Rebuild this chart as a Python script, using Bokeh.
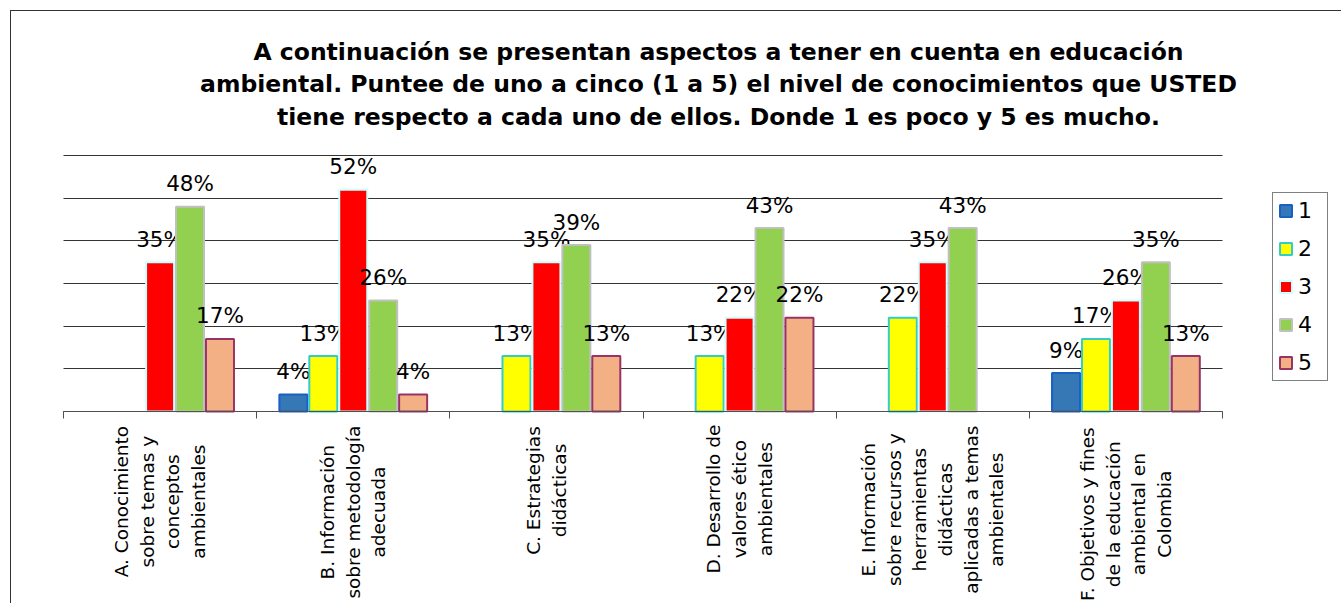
import math
from bokeh.plotting import figure
from bokeh.models import (ColumnDataSource, Legend, LegendItem, FixedTicker,
                          Range1d, LinearAxis, Grid)
from bokeh.embed import file_html
from bokeh.resources import INLINE
from bokeh.core.properties import value

# ---------------- data ----------------
title_text = ("A continuación se presentan aspectos a tener en cuenta en educación\n"
              "ambiental. Puntee de uno a cinco (1 a 5) el nivel de conocimientos que USTED\n"
              "tiene respecto a cada uno de ellos. Donde 1 es poco y 5 es mucho.")
categories = [
    "A. Conocimiento\nsobre temas y\nconceptos\nambientales",
    "B. Información\nsobre metodología\nadecuada",
    "C. Estrategias\ndidácticas",
    "D. Desarrollo de\nvalores ético\nambientales",
    "E. Información\nsobre recursos y\nherramientas\ndidácticas\naplicadas a temas\nambientales",
    "F. Objetivos y fines\nde la educación\nambiental en\nColombia",
]
series_names = ["1", "2", "3", "4", "5"]
s1 = [0, 4, 0, 0, 0, 9]
s2 = [0, 13, 13, 13, 22, 17]
s3 = [35, 52, 35, 22, 35, 26]
s4 = [48, 26, 39, 43, 43, 35]
s5 = [17, 4, 13, 22, 0, 13]
y_ticks = [0, 10, 20, 30, 40, 50, 60]

series_values = [s1, s2, s3, s4, s5]

# ---------------- styles / layout (page pixels) ----------------
fills = ["#3677b5", "#ffff00", "#ff0000", "#92d050", "#f2b084"]
lines = ["#1a5fc8", "#33cccc", "#ccffff", "#c0c0c0", "#993366"]
FONT = "DejaVu Sans"

ORG = 11                 # page px of canvas top-left (10 margin + 1 border)
FW, FH = 1330, 592       # frame size
PX_L, PX_R = 63, 1222    # page px of category axis ends
PX_0, PX_TOP = 411, 155  # page px of y=0 and y=max
ncat = len(categories)
ymax = y_ticks[-1]
ppu_x = (PX_R - PX_L) / ncat
ppu_y = (PX_0 - PX_TOP) / ymax

x_start = -(PX_L - ORG) / ppu_x
x_end = ncat + (ORG + FW - PX_R) / ppu_x
y_end = ymax + (PX_TOP - ORG) / ppu_y
y_start = -(ORG + FH - PX_0) / ppu_y

p = figure(frame_width=FW, frame_height=FH,
           x_range=Range1d(x_start, x_end), y_range=Range1d(y_start, y_end),
           x_axis_location=None, y_axis_location=None,
           output_backend="svg", toolbar_location=None,
           min_border_left=0, min_border_right=0, min_border_top=0,
           min_border_bottom=0)
p.styles = {"border-top": "1px solid #333333", "border-left": "1px solid #333333",
            "margin-left": "10px", "margin-top": "10px"}
p.outline_line_color = None
p.background_fill_color = "white"
p.border_fill_color = "white"
# drop any default grids
p.center = [r for r in p.center if not isinstance(r, Grid)]

# horizontal gridlines, limited to the category span
if "cross_bounds" in Grid.properties():
    grid = Grid(dimension=1, ticker=FixedTicker(ticks=y_ticks),
                cross_bounds=(0, ncat), grid_line_color="#333333",
                grid_line_width=1)
    p.add_layout(grid)
else:
    p.segment(x0=[0] * len(y_ticks), x1=[ncat] * len(y_ticks), y0=y_ticks,
              y1=y_ticks, line_color="#333333", line_width=1)

# category axis at y = 0
xaxis = LinearAxis(fixed_location=0, bounds=(0, ncat),
                   ticker=FixedTicker(ticks=list(range(ncat + 1))),
                   axis_line_color="#505050", major_tick_line_color="#505050",
                   major_tick_out=7, major_tick_in=0, minor_tick_line_color=None,
                   major_label_text_font_size="0px", major_label_standoff=0,
                   major_label_text_color=None)
p.add_layout(xaxis, "below")

bar_w = 0.155
items = []
for k, (name, vals) in enumerate(zip(series_names, series_values)):
    xs, tops, labs = [], [], []
    for i, v in enumerate(vals):
        if v > 0:
            xs.append(i + 0.5 + (k - 2) * bar_w)
            tops.append(v)
            labs.append(f"{v}%")
    src = ColumnDataSource(dict(x=xs, top=tops, lab=labs))
    r = p.vbar(x="x", top="top", bottom=0, width=bar_w - 0.01, source=src,
               fill_color=fills[k], line_color=lines[k], line_width=2)
    p.text(x="x", y="top", text="lab", source=src, text_align="center",
           text_baseline="alphabetic", y_offset=-23, text_font=value(FONT),
           text_font_size="21.5px", text_color="black")
    items.append(LegendItem(label=name, renderers=[r]))

legend = Legend(items=items, location=(1272 - ORG, ORG + FH - 381), margin=0,
                padding=5, spacing=13, glyph_width=15, glyph_height=15,
                label_standoff=5, label_width=24, label_text_font=FONT,
                label_text_font_size="22px", label_text_color="black",
                border_line_color="black", border_line_width=1.2,
                background_fill_alpha=1.0)
p.add_layout(legend)

# approximate DejaVu Sans advance widths (em) for placing rotated labels
CW = {" ": .318, ".": .318, "a": .613, "b": .635, "c": .550, "d": .635, "e": .615,
      "f": .352, "g": .635, "h": .634, "i": .278, "j": .278, "k": .579, "l": .278,
      "m": .974, "n": .634, "o": .612, "p": .635, "q": .635, "r": .411, "s": .521,
      "t": .392, "u": .634, "v": .592, "w": .818, "x": .592, "y": .592, "z": .525,
      "á": .613, "é": .615, "í": .278, "ó": .612}

def text_w(s, size):
    return sum(CW.get(c, .70) for c in s) * size

CAT_SIZE = 18.5
cx, cy = [], []
for i, cat in enumerate(categories):
    L = max(text_w(line, CAT_SIZE) for line in cat.split("\n"))
    cx.append(i + 0.5)
    cy.append(-(14 + L / 2) / ppu_y)
p.text(x=cx, y=cy, text=categories, angle=math.pi / 2, text_align="center",
       text_baseline="middle", text_font=value(FONT),
       text_font_size=f"{CAT_SIZE}px", text_line_height=1.22, text_color="black")

# title
p.text(x=[(718 - PX_L) / ppu_x], y=[(PX_0 - 84) / ppu_y], text=[title_text],
       text_align="center", text_baseline="middle", text_font=value(FONT),
       text_font_size="23.5px", text_font_style="bold", text_line_height=1.17,
       text_color="black")

open("out.html", "w").write(file_html(p, INLINE))
